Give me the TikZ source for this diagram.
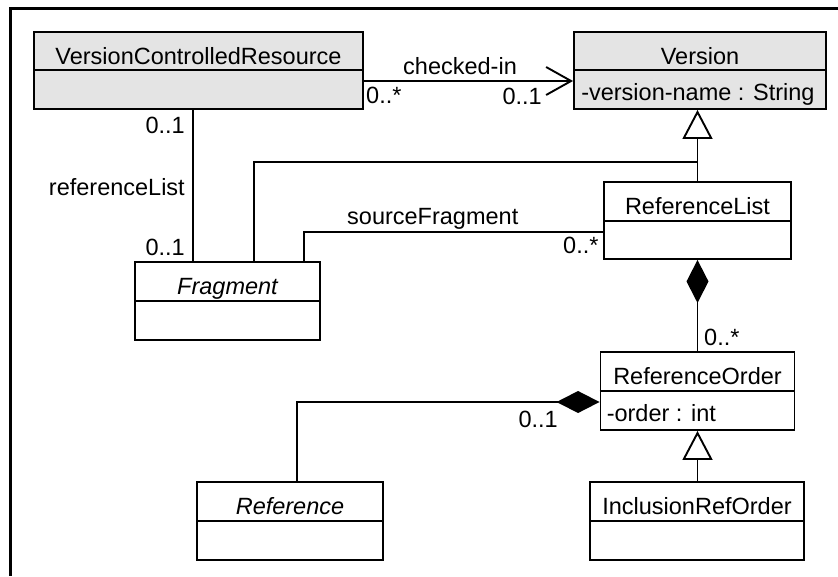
\documentclass[tikz,border=0pt]{standalone}
\usepackage{fontspec}
\setmainfont{Liberation Sans}
\usetikzlibrary{arrows.meta,calc}
\definecolor{clsgray}{HTML}{E4E4E4}
\begin{document}
\begin{tikzpicture}[x=1pt,y=-1pt,
  cls/.style={draw, line width=1.9pt, rectangle, inner sep=0pt, anchor=center},
  txt/.style={inner sep=0pt, font=\fontsize{23.5}{28}\selectfont},
  conn/.style={line width=1.9pt},
  gen/.style={conn, -{Triangle[open,length=29pt,width=30pt,fill=white]}},
  comp/.style={conn, -{Diamond[length=43pt,width=22pt]}},
  nav/.style={conn, -{Straight Barb[length=25pt,width=28pt]}},
]
\useasboundingbox (0,0) rectangle (838,576);
\draw[line width=3pt] (838,8) -- (10,8) -- (10,576);

% classes
\node[cls, fill=clsgray, minimum width=329pt, minimum height=77pt] (vcr) at (198.5,70.5) {};
\node[cls, fill=clsgray, minimum width=252pt, minimum height=77pt] (version) at (700,70.5) {};
\node[cls, minimum width=187pt, minimum height=77pt] (reflist) at (697.5,220.5) {};
\node[cls, minimum width=185pt, minimum height=78pt] (fragment) at (227.5,301) {};
\node[cls, minimum width=194pt, minimum height=78pt] (reforder) at (697.5,391) {};
\node[cls, minimum width=186pt, minimum height=78pt] (reference) at (290,521) {};
\node[cls, minimum width=214pt, minimum height=78pt] (inclusion) at (697,521) {};

% dividers
\draw[conn] ([yshift=-39pt]vcr.north west) -- ([yshift=-39pt]vcr.north east);
\draw[conn] ([yshift=-39pt]version.north west) -- ([yshift=-39pt]version.north east);
\draw[conn] ([yshift=-40pt]reflist.north west) -- ([yshift=-40pt]reflist.north east);
\draw[conn] ([yshift=-40pt]fragment.north west) -- ([yshift=-40pt]fragment.north east);
\draw[conn] ([yshift=-40pt]reforder.north west) -- ([yshift=-40pt]reforder.north east);
\draw[conn] ([yshift=-40pt]reference.north west) -- ([yshift=-40pt]reference.north east);
\draw[conn] ([yshift=-40pt]inclusion.north west) -- ([yshift=-40pt]inclusion.north east);

% names
\node[txt, anchor=base] (vcrT) at ([yshift=-33.5pt]vcr.north) {VersionControlledResource};
\node[txt, anchor=base] (versionT) at ([yshift=-33.5pt]version.north) {Version};
\node[txt, anchor=base west] (versionA) at ([xshift=8pt,yshift=-69pt]version.north west) {-version-name : String};
\node[txt, anchor=base] (reflistT) at ([yshift=-33.5pt]reflist.north) {ReferenceList};
\node[txt, anchor=base] (fragmentT) at ([yshift=-33.5pt]fragment.north) {\itshape Fragment};
\node[txt, anchor=base] (reforderT) at ([yshift=-33.5pt]reforder.north) {ReferenceOrder};
\node[txt, anchor=base west] (reforderA) at ([xshift=7pt,yshift=-70pt]reforder.north west) {-order : int};
\node[txt, anchor=base] (referenceT) at ([yshift=-33.5pt]reference.north) {\itshape Reference};
\node[txt, anchor=base] (inclusionT) at ([yshift=-33.5pt]inclusion.north) {InclusionRefOrder};

% connectors
\draw[nav] ([yshift=-10.5pt]vcr.east) -- ([yshift=-10.5pt]version.west);
\draw[gen] (reflist.north) -- (reflist.north |- version.south);
\coordinate (gj) at (697.5,162);
\draw[conn] ([xshift=26.5pt]fragment.north) |- (gj);
\draw[conn] ([yshift=-11.5pt]reflist.west) -| ([xshift=76.5pt]fragment.north);
\draw[conn] ([xshift=-5.5pt]vcr.south) -- ([xshift=-34.5pt]fragment.north);
\draw[comp] (reforder.north) -- (reforder.north |- reflist.south);
\draw[comp] ([xshift=7pt]reference.north) |- ([yshift=-11pt]reforder.west);
\draw[gen] ([xshift=0.5pt]inclusion.north) -- ([xshift=0.5pt]inclusion.north |- reforder.south);

% labels
\node[txt, anchor=base west] (l1) at (403,74) {checked-in};
\node[txt, anchor=base west] (l2) at (366,103) {0..*};
\node[txt, anchor=base east] (l3) at (542,104) {0..1};
\node[txt, anchor=base east] (l4) at (185,133) {0..1};
\node[txt, anchor=base east] (l5) at (185,195) {referenceList};
\node[txt, anchor=base east] (l6) at (185,255) {0..1};
\node[txt, anchor=base west] (l7) at (347,224) {sourceFragment};
\node[txt, anchor=base west] (l8) at (563,253) {0..*};
\node[txt, anchor=base west] (l9) at (704,345) {0..*};
\node[txt, anchor=base east] (l10) at (558,427) {0..1};
\end{tikzpicture}
\end{document}
